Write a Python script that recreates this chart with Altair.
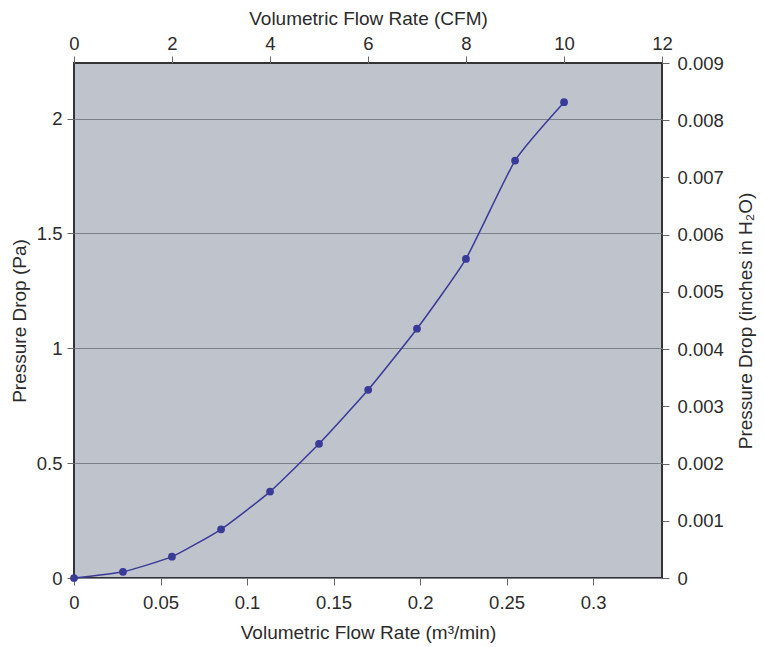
import altair as alt
import pandas as pd

# Values
flow_cfm = [0, 1, 2, 3, 4, 5, 6, 7, 8, 9, 10]
flow_m3min = [0, 0.0283, 0.0566, 0.0850, 0.1133, 0.1416, 0.1700, 0.1982, 0.2265, 0.2549, 0.2832]
drop_pa = [0, 0.027, 0.093, 0.212, 0.376, 0.584, 0.819, 1.085, 1.389, 1.817, 2.071]
drop_inh2o = [0, 0.00011, 0.00037, 0.00085, 0.00151, 0.00234, 0.00329, 0.00436, 0.00558, 0.00729, 0.00831]

bottom_ticks = [0, 0.05, 0.1, 0.15, 0.2, 0.25, 0.3]
top_ticks = [0, 2, 4, 6, 8, 10, 12]
left_ticks = [0, 0.5, 1, 1.5, 2]
right_ticks = [0, 0.001, 0.002, 0.003, 0.004, 0.005, 0.006, 0.007, 0.008, 0.009]

df = pd.DataFrame({
    "cfm": flow_cfm,
    "m3": flow_m3min,
    "pa": drop_pa,
    "inh2o": drop_inh2o,
})

FONT = "Liberation Sans"
TXT = "#2b2b2b"
LINE = "#3a3a98"

common_axis = dict(
    labelFont=FONT, titleFont=FONT, labelFontSize=18.5, titleFontSize=19,
    labelColor=TXT, titleColor=TXT, titleFontWeight="normal",
    domain=False, tickColor="#666666", tickSize=7, labelFlush=False,
)

x_main = alt.X("m3:Q",
    scale=alt.Scale(domain=[0, 0.3398], nice=False, zero=False),
    axis=alt.Axis(title="Volumetric Flow Rate (m³/min)", values=bottom_ticks, format="~g",
                  orient="bottom", grid=False, labelPadding=8, titlePadding=12, **common_axis))
y_main = alt.Y("pa:Q",
    scale=alt.Scale(domain=[0, 2.2418], nice=False, zero=False),
    axis=alt.Axis(title="Pressure Drop (Pa)", values=left_ticks, format="~g",
                  orient="left", grid=True, gridColor="#7d8189", gridWidth=1,
                  labelPadding=5, titlePadding=7, **common_axis))

line = alt.Chart(df).mark_line(color=LINE, strokeWidth=1.5, interpolate="cardinal", tension=0.5).encode(
    x=x_main, y=y_main)
pts = alt.Chart(df).mark_point(color=LINE, filled=True, size=60, opacity=1, shape="circle").encode(
    x=x_main, y=y_main)
main = alt.layer(line, pts)

sec = alt.Chart(df).mark_point(opacity=0).encode(
    x=alt.X("cfm:Q", scale=alt.Scale(domain=[0, 12], nice=False, zero=False),
            axis=alt.Axis(title="Volumetric Flow Rate (CFM)", values=top_ticks, orient="top",
                          grid=False, labelPadding=3, titlePadding=6, **common_axis)),
    y=alt.Y("inh2o:Q", scale=alt.Scale(domain=[0, 0.009], nice=False, zero=False),
            axis=alt.Axis(title="Pressure Drop (inches in H₂O)", values=right_ticks, orient="right",
                          grid=False, labelPadding=8, titlePadding=32, titleAngle=270,
                          labelExpr="datum.value == 0 ? '0' : format(datum.value, '.3f')",
                          **common_axis)),
)

chart = alt.layer(main, sec).resolve_scale(x="independent", y="independent").properties(
    width=588, height=515,
    autosize=alt.AutoSizeParams(type="none"),
    padding={"left": 66, "top": 55, "right": 95, "bottom": 66},
    background="white",
).configure_view(fill="#bfc3cb", stroke="#333333", strokeWidth=2)

chart.save("out.html", embed_options={"renderer": "svg", "actions": False})
